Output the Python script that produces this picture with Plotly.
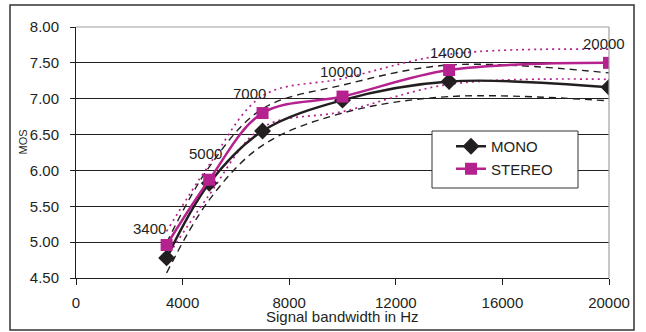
import plotly.graph_objects as go

bandwidth = [3400, 5000, 7000, 10000, 14000, 20000]
mono = [4.78, 5.82, 6.55, 6.98, 7.24, 7.16]
mono_hi = [4.99, 6.05, 6.86, 7.19, 7.47, 7.36]
mono_lo = [4.57, 5.59, 6.35, 6.80, 7.03, 6.97]
stereo = [4.96, 5.87, 6.80, 7.03, 7.40, 7.50]
stereo_hi = [5.15, 6.08, 7.04, 7.28, 7.62, 7.69]
stereo_lo = [4.78, 5.66, 6.60, 6.82, 7.20, 7.27]

x_ticks = [0, 4000, 8000, 12000, 16000, 20000]
y_ticks = [4.5, 5.0, 5.5, 6.0, 6.5, 7.0, 7.5, 8.0]
label_shift = [(-17, 17), (-4, 26), (-13, 20), (-2, 25), (2, 18), (-5, 19)]

BLACK = "#231F20"
MAG = "#B5218F"
FONT = "Liberation Sans, Arial, sans-serif"

fig = go.Figure()

# confidence curves
fig.add_trace(go.Scatter(x=bandwidth, y=mono_hi, mode="lines", showlegend=False,
                         line=dict(color=BLACK, width=1.4, dash="7px,5px", shape="spline"), hoverinfo="skip"))
fig.add_trace(go.Scatter(x=bandwidth, y=mono_lo, mode="lines", showlegend=False,
                         line=dict(color=BLACK, width=1.4, dash="7px,5px", shape="spline"), hoverinfo="skip"))
fig.add_trace(go.Scatter(x=bandwidth, y=stereo_hi, mode="lines", showlegend=False,
                         line=dict(color=MAG, width=1.7, dash="2px,4px", shape="spline"), hoverinfo="skip"))
fig.add_trace(go.Scatter(x=bandwidth, y=stereo_lo, mode="lines", showlegend=False,
                         line=dict(color=MAG, width=1.7, dash="2px,4px", shape="spline"), hoverinfo="skip"))

fig.add_trace(go.Scatter(x=bandwidth, y=mono, mode="lines+markers", name="MONO",
                         line=dict(color=BLACK, width=2.5, shape="spline"),
                         marker=dict(symbol="diamond", size=13, color=BLACK)))
fig.add_trace(go.Scatter(x=bandwidth, y=stereo, mode="lines+markers", name="STEREO",
                         line=dict(color=MAG, width=2.5, shape="spline"),
                         marker=dict(symbol="square", size=12, color=MAG)))

for xv, yv, (dx, dy) in zip(bandwidth, stereo, label_shift):
    fig.add_annotation(x=xv, y=yv, text=str(xv), showarrow=False, xshift=dx, yshift=dy,
                       font=dict(family=FONT, size=15, color=BLACK))

# axis titles
fig.add_annotation(x=0.5, y=-0.152, xref="paper", yref="paper", text="Signal bandwidth in Hz",
                   showarrow=False, font=dict(family=FONT, size=15, color=BLACK),
                   xanchor="center", yanchor="middle")
fig.add_annotation(x=-0.0994, y=0.54, xref="paper", yref="paper", text="MOS", textangle=-90,
                   showarrow=False, font=dict(family=FONT, size=11, color=BLACK),
                   xanchor="center", yanchor="middle")

# plot area top/right border (gray) and outer frame
fig.add_shape(type="line", xref="paper", yref="paper", x0=0, x1=1, y0=1, y1=1,
              line=dict(color="#A0A0A0", width=1.2), layer="above")
fig.add_shape(type="line", xref="paper", yref="paper", x0=1, x1=1, y0=0, y1=1,
              line=dict(color="#A0A0A0", width=1.2), layer="above")
fig.add_shape(type="rect", xref="paper", yref="paper", x0=-0.1238, x1=1.0469, y0=-0.2072, y1=1.0876,
              line=dict(color="#333333", width=1.5), layer="below")
# legend frame (px 432..578 x 131..188)
fig.add_shape(type="rect", xref="paper", yref="paper",
              x0=(432 - 76) / 533, x1=(578 - 76) / 533,
              y0=(278 - 188) / 251, y1=(278 - 131) / 251,
              line=dict(color="#333333", width=1), fillcolor="white", layer="above")

fig.update_layout(
    width=646, height=332,
    margin=dict(l=76, r=37, t=27, b=54),
    paper_bgcolor="white", plot_bgcolor="white",
    font=dict(family=FONT, size=15, color=BLACK),
    showlegend=True,
    legend=dict(x=(451 - 76) / 533, y=(278 - 130) / 251, xanchor="left", yanchor="top",
                borderwidth=0, bgcolor="rgba(0,0,0,0)",
                font=dict(family=FONT, size=15, color=BLACK),
                tracegroupgap=2),
    xaxis=dict(range=[0, 20000], tickvals=x_ticks, ticktext=[str(v) for v in x_ticks],
               showgrid=False, zeroline=False, showline=True, linecolor=BLACK, linewidth=1,
               ticks="outside", ticklen=6, tickcolor=BLACK, tickfont=dict(size=15),
               ticklabelstandoff=5),
    yaxis=dict(range=[4.5, 8.0], tickvals=y_ticks, ticktext=[f"{v:.2f}" for v in y_ticks],
               showgrid=True, gridcolor=BLACK, gridwidth=1, zeroline=False,
               showline=True, linecolor=BLACK, linewidth=1,
               ticks="outside", ticklen=5, tickcolor=BLACK, tickfont=dict(size=15),
               ticklabelstandoff=8),
)

fig.write_html("out.html")
